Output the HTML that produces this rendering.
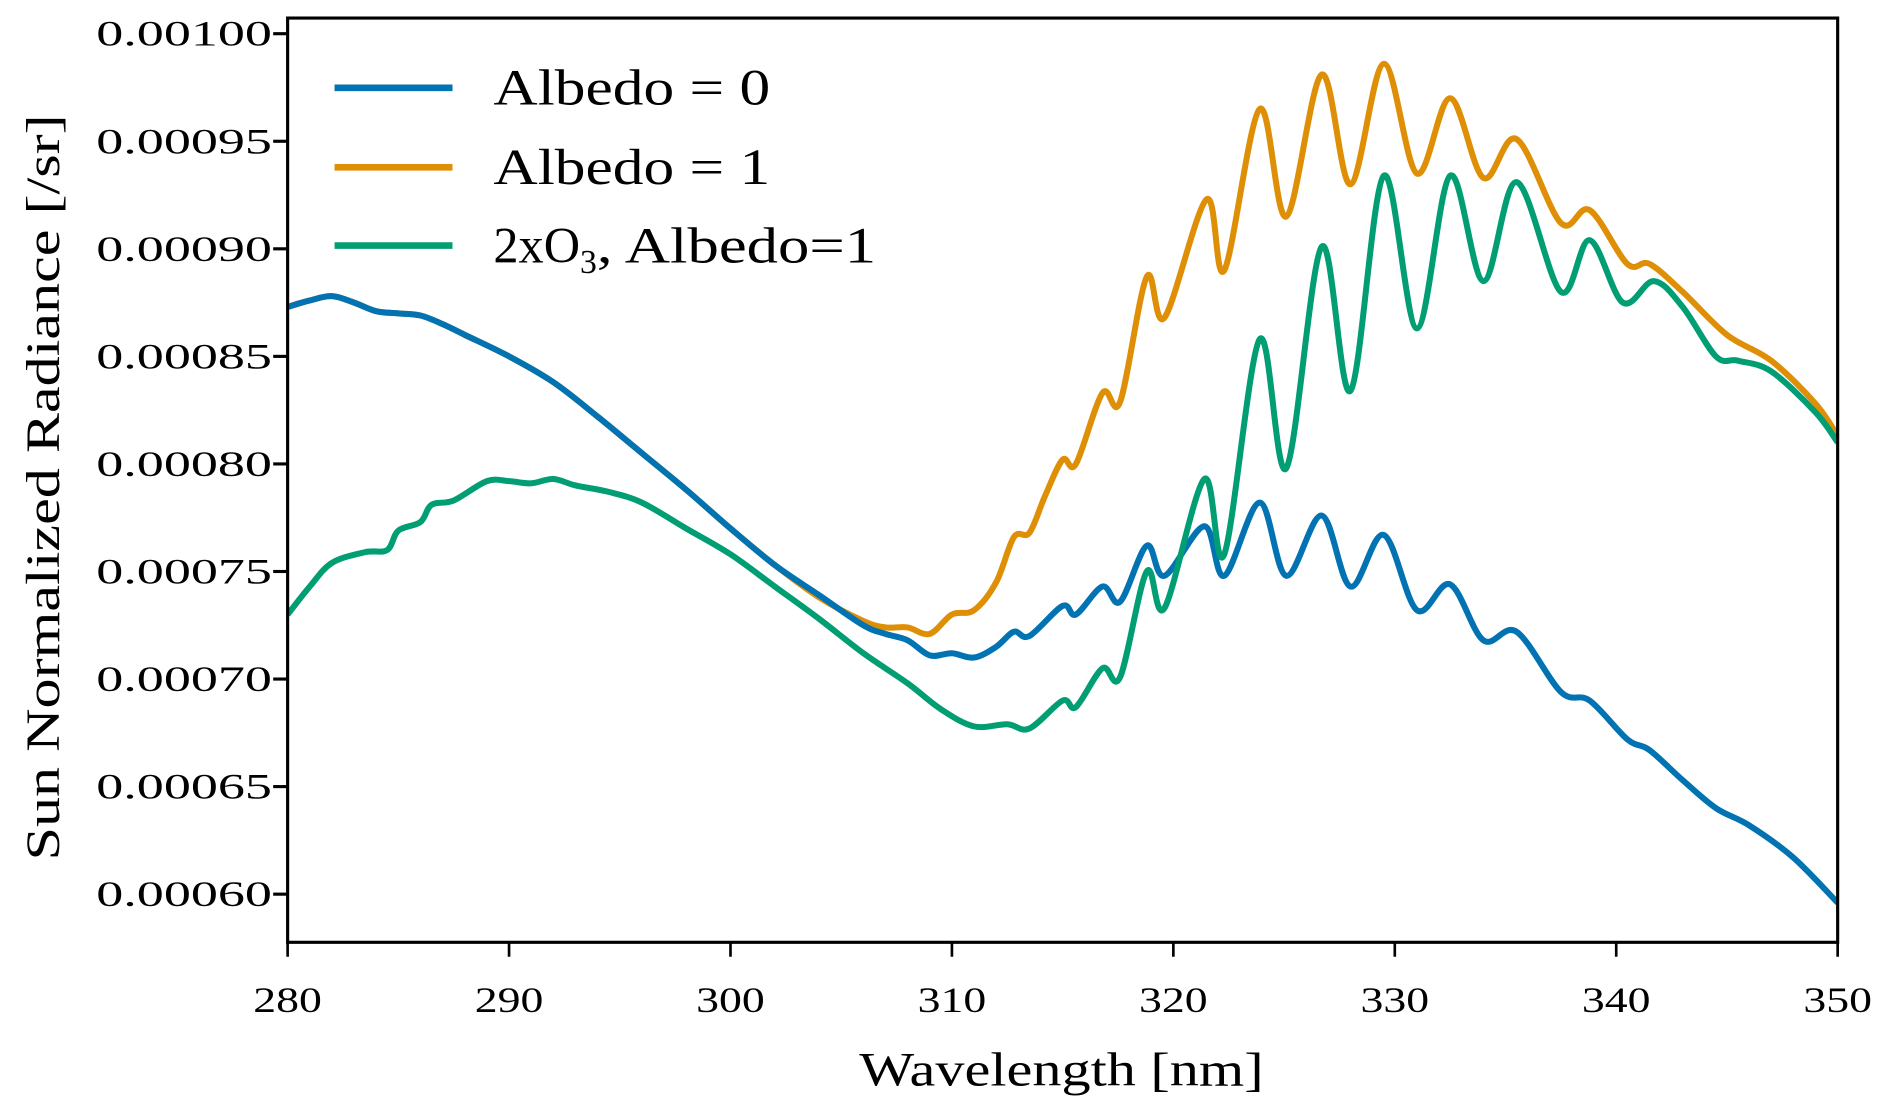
<!DOCTYPE html>
<html><head><meta charset="utf-8"><style>
html,body{margin:0;padding:0;background:#fff;}
svg{display:block;font-family:"Liberation Serif",serif;}
</style></head><body>
<svg id="chart" width="1887" height="1115" viewBox="0 0 1568 926.5" xmlns="http://www.w3.org/2000/svg"></svg>
<script>
const xTicks=[280,290,300,310,320,330,340,350];
const yTicks=[0.00060,0.00065,0.00070,0.00075,0.00080,0.00085,0.00090,0.00095,0.00100];
const yTickLabels=["0.00060","0.00065","0.00070","0.00075","0.00080","0.00085","0.00090","0.00095","0.00100"];
const albedo0X=[280,281,282,283,284,285,286,287,288,290,292,294,296,298,300,302,304,306,307,308,309,310,311,312,312.8,313.5,315,315.6,316.8,317.6,318.8,319.6,321.4,322.3,323.9,325.1,326.7,328.0,329.5,331.0,332.5,334.0,335.5,337.5,338.8,340.5,341.5,343,344.5,346,348,350];
const albedo0Y=[87.3,87.6,87.8,87.5,87.1,87.0,86.9,86.5,86.0,85.0,83.8,82.2,80.5,78.8,77.0,75.3,73.9,72.5,72.1,71.8,71.1,71.2,71.0,71.5,72.2,72.0,73.4,73.0,74.3,73.6,76.2,74.8,77.1,74.8,78.2,74.8,77.6,74.3,76.7,73.2,74.4,71.8,72.2,69.4,69.0,67.2,66.7,65.3,64.0,63.2,61.7,59.6];
const albedo1X=[280,281,282,283,284,285,286,287,288,290,292,294,296,298,300,302,304,306,307,308,309,310,311,312,312.8,313.5,314.2,315,315.6,316.8,317.6,318.8,319.6,321.5,322.3,323.9,325.1,326.7,328.0,329.5,331.0,332.5,334.0,335.5,337.5,338.8,340.5,341.5,343,345,347,349,350];
const albedo1Y=[87.3,87.6,87.8,87.5,87.1,87.0,86.9,86.5,86.0,85.0,83.8,82.2,80.5,78.8,77.0,75.3,73.8,72.7,72.4,72.4,72.1,73.0,73.2,74.5,76.6,76.8,78.5,80.2,80.0,83.3,82.9,88.7,86.8,92.3,89.0,96.5,91.5,98.1,93.0,98.6,93.5,97.0,93.3,95.1,91.2,91.8,89.3,89.3,88.0,86.0,84.8,82.8,81.3];
const o3X=[280,281,282,283.5,284.5,285,286,286.5,287.5,289,290,291,292,293,294.5,296,298,300,302,304,306,308,309.5,311,312.5,313.5,315,315.6,316.8,317.6,318.8,319.6,321.4,322.3,323.9,325.1,326.7,328.0,329.5,331.0,332.5,334.0,335.5,337.5,338.8,340.3,341.7,343,344.5,345.5,347,349,350];
const o3Y=[73.0,74.3,75.4,75.9,76.0,76.9,77.3,78.1,78.3,79.2,79.2,79.1,79.3,79.0,78.7,78.2,77.0,75.8,74.3,72.8,71.2,69.8,68.6,67.8,67.9,67.7,69.0,68.7,70.5,70.1,75.0,73.3,79.3,75.8,85.8,79.8,90.1,83.4,93.4,86.3,93.4,88.5,93.1,88.0,90.4,87.5,88.5,87.3,85.0,84.8,84.3,82.4,81.0];
const NS="http://www.w3.org/2000/svg";
const svg=document.getElementById('chart');
const L=239,R=1527,T=15,B=783;
const xs=v=>L+(v-280)/70*(R-L);
const ys=v=>28+(0.001-v)/0.0004*715;
function mk(t,a,p){const e=document.createElementNS(NS,t);for(const k in a)e.setAttribute(k,a[k]);(p||svg).appendChild(e);return e;}
function path(X,Y){const P=X.map((x,i)=>[xs(x),ys(Y[i]*1e-5)]);let d="M"+P[0][0]+","+P[0][1];
for(let i=0;i<P.length-1;i++){const p0=P[Math.max(i-1,0)],p1=P[i],p2=P[i+1],p3=P[Math.min(i+2,P.length-1)];
const c1=[p1[0]+(p2[0]-p0[0])/6,p1[1]+(p2[1]-p0[1])/6],c2=[p2[0]-(p3[0]-p1[0])/6,p2[1]-(p3[1]-p1[1])/6];
d+=` C${c1[0]},${c1[1]} ${c2[0]},${c2[1]} ${p2[0]},${p2[1]}`;}return d;}
const clip=mk('clipPath',{id:'pc'});mk('rect',{x:L,y:T,width:R-L,height:B-T},clip);
const series=[[albedo1X,albedo1Y,'#de8f05','line-albedo-1'],[albedo0X,albedo0Y,'#0173b2','line-albedo-0'],[o3X,o3Y,'#029e73','line-2xo3-albedo-1']];
series.forEach(s=>{const p=mk('path',{d:path(s[0],s[1]),fill:'none',stroke:s[2],'stroke-width':5,'stroke-linejoin':'round','clip-path':'url(#pc)'});

});
const fr=mk('rect',{x:L,y:T,width:R-L,height:B-T,fill:'none',stroke:'#000','stroke-width':2.6});


xTicks.forEach(v=>{const x=xs(v);mk('line',{x1:x,x2:x,y1:B,y2:B+12,stroke:'#000','stroke-width':2.2});
const t=mk('text',{x:x,y:841,'text-anchor':'middle','font-size':30,textLength:57,lengthAdjust:'spacingAndGlyphs'});t.textContent=v;

});
yTicks.forEach((v,i)=>{const y=ys(v);mk('line',{x1:L-12,x2:L,y1:y,y2:y,stroke:'#000','stroke-width':2.6});
const t=mk('text',{x:80,y:y+10,'font-size':30,textLength:146,lengthAdjust:'spacingAndGlyphs'});t.textContent=yTickLabels[i];

});
const xl=mk('text',{x:714,y:902,'font-size':40,textLength:336,lengthAdjust:'spacingAndGlyphs'});xl.textContent='Wavelength [nm]';


const yl=mk('text',{x:0,y:0,'font-size':40,textLength:620,lengthAdjust:'spacingAndGlyphs',transform:'translate(49,715) rotate(-90)'});yl.textContent='Sun Normalized Radiance [/sr]';


const leg=[['#0173b2','Albedo = 0',73,230],['#de8f05','Albedo = 1',139,230],['#029e73',null,204,0]];
leg.forEach((e,i)=>{const g=mk('g',{});


mk('line',{x1:278,x2:376,y1:e[2],y2:e[2],stroke:e[0],'stroke-width':5.5},g);
if(e[1]){const t=mk('text',{x:410,y:e[2]+14,'font-size':42,textLength:e[3],lengthAdjust:'spacingAndGlyphs'},g);t.textContent=e[1];}
else{const t=mk('text',{x:410,y:e[2]+14,'font-size':42},g);
t.innerHTML='<tspan textLength="72" lengthAdjust="spacingAndGlyphs">2xO</tspan><tspan font-size="28" dy="9">3</tspan><tspan dy="-9" textLength="232" lengthAdjust="spacingAndGlyphs">, Albedo=1</tspan>';}});
</script>
</body></html>
